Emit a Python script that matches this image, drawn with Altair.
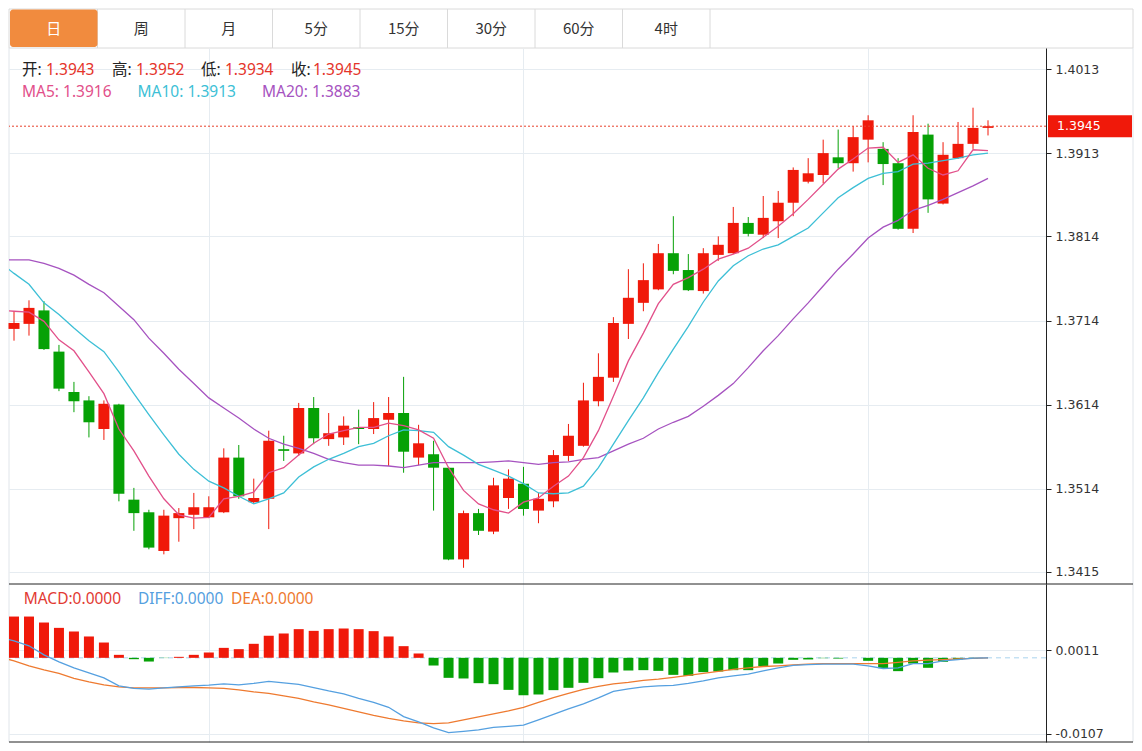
import altair as alt
import pandas as pd

# ---------------- data ----------------
tabs = ["日", "周", "月", "5分", "15分", "30分", "60分", "4时"]

opens = [1.3704, 1.3710, 1.3726, 1.3677, 1.3629, 1.3619, 1.3585, 1.3614, 1.3501, 1.3486,
         1.3440, 1.3479, 1.3483, 1.3480, 1.3486, 1.3551, 1.3498, 1.3502, 1.3561, 1.3556,
         1.3610, 1.3573, 1.3575, 1.3587, 1.3585, 1.3596, 1.3604, 1.3551, 1.3555, 1.3539,
         1.3430, 1.3485, 1.3463, 1.3503, 1.3520, 1.3488, 1.3499, 1.3553, 1.3565, 1.3618,
         1.3646, 1.3710, 1.3735, 1.3751, 1.3794, 1.3774, 1.3749, 1.3792, 1.3794, 1.3830,
         1.3816, 1.3832, 1.3854, 1.3879, 1.3887, 1.3908, 1.3901, 1.3929, 1.3918, 1.3901,
         1.3823, 1.3935, 1.3853, 1.3907, 1.3924, 1.3943]
highs = [1.3725, 1.3738, 1.3737, 1.3685, 1.3641, 1.3624, 1.3619, 1.3615, 1.3515, 1.3489,
         1.3489, 1.3491, 1.3509, 1.3505, 1.3562, 1.3566, 1.3526, 1.3583, 1.3577, 1.3616,
         1.3623, 1.3604, 1.3600, 1.3608, 1.3617, 1.3623, 1.3647, 1.3590, 1.3571, 1.3540,
         1.3488, 1.3490, 1.3527, 1.3537, 1.3540, 1.3509, 1.3560, 1.3591, 1.3640, 1.3675,
         1.3718, 1.3775, 1.3782, 1.3805, 1.3838, 1.3793, 1.3800, 1.3814, 1.3849, 1.3837,
         1.3862, 1.3868, 1.3896, 1.3907, 1.3929, 1.3941, 1.3945, 1.3958, 1.3926, 1.3907,
         1.3958, 1.3948, 1.3926, 1.3950, 1.3967, 1.3952]
lows = [1.3690, 1.3696, 1.3679, 1.3630, 1.3605, 1.3575, 1.3572, 1.3499, 1.3464, 1.3442,
        1.3436, 1.3451, 1.3466, 1.3479, 1.3485, 1.3502, 1.3497, 1.3466, 1.3547, 1.3553,
        1.3567, 1.3565, 1.3566, 1.3567, 1.3579, 1.3541, 1.3533, 1.3542, 1.3488, 1.3429,
        1.3420, 1.3459, 1.3460, 1.3490, 1.3482, 1.3473, 1.3492, 1.3547, 1.3564, 1.3612,
        1.3641, 1.3692, 1.3725, 1.3750, 1.3769, 1.3749, 1.3746, 1.3785, 1.3793, 1.3814,
        1.3812, 1.3812, 1.3838, 1.3877, 1.3877, 1.3895, 1.3891, 1.3902, 1.3875, 1.3822,
        1.3818, 1.3842, 1.3852, 1.3906, 1.3918, 1.3934]
closes = [1.3711, 1.3729, 1.3680, 1.3633, 1.3618, 1.3593, 1.3615, 1.3508, 1.3485, 1.3444,
          1.3482, 1.3485, 1.3492, 1.3492, 1.3551, 1.3505, 1.3503, 1.3571, 1.3559, 1.3610,
          1.3574, 1.3580, 1.3589, 1.3585, 1.3598, 1.3604, 1.3558, 1.3568, 1.3539, 1.3430,
          1.3485, 1.3464, 1.3518, 1.3526, 1.3490, 1.3502, 1.3554, 1.3577, 1.3619, 1.3647,
          1.3711, 1.3741, 1.3762, 1.3794, 1.3773, 1.3750, 1.3794, 1.3804, 1.3830, 1.3817,
          1.3836, 1.3854, 1.3893, 1.3889, 1.3913, 1.3901, 1.3932, 1.3952, 1.3900, 1.3823,
          1.3938, 1.3858, 1.3911, 1.3924, 1.3943, 1.3945]

# moving averages, first value is the bar just left of the visible window
ma5 = [1.3726, 1.3725, 1.3724, 1.3713, 1.3691, 1.3678, 1.3653, 1.3627, 1.3585, 1.3559, 1.3529,
       1.3502, 1.3483, 1.3479, 1.3480, 1.3502, 1.3505, 1.3510, 1.3533, 1.3539, 1.3554,
       1.3568, 1.3579, 1.3583, 1.3587, 1.3587, 1.3592, 1.3589, 1.3584, 1.3574, 1.3539,
       1.3512, 1.3496, 1.3489, 1.3485, 1.3498, 1.3503, 1.3517, 1.3529, 1.3551, 1.3583,
       1.3624, 1.3666, 1.3699, 1.3734, 1.3757, 1.3765, 1.3775, 1.3787, 1.3793, 1.3800,
       1.3813, 1.3826, 1.3841, 1.3858, 1.3876, 1.3894, 1.3906, 1.3919, 1.3920, 1.3902,
       1.3911, 1.3895, 1.3887, 1.3892, 1.3917, 1.3916]
ma10 = [1.3784, 1.3770, 1.3757, 1.3735, 1.3721, 1.3705, 1.3690, 1.3677, 1.3653, 1.3627, 1.3602,
        1.3578, 1.3555, 1.3537, 1.3523, 1.3515, 1.3505, 1.3496, 1.3502, 1.3509, 1.3528,
        1.3540, 1.3549, 1.3556, 1.3564, 1.3568, 1.3577, 1.3584, 1.3583, 1.3581, 1.3564,
        1.3554, 1.3543, 1.3536, 1.3529, 1.3520, 1.3509, 1.3508, 1.3509, 1.3517, 1.3539,
        1.3567, 1.3595, 1.3622, 1.3652, 1.3680, 1.3707, 1.3736, 1.3761, 1.3779, 1.3791,
        1.3799, 1.3804, 1.3814, 1.3824, 1.3842, 1.3860, 1.3872, 1.3883, 1.3889, 1.3891,
        1.3900, 1.3901, 1.3904, 1.3907, 1.3911, 1.3913]
ma20 = [1.3786, 1.3786, 1.3786, 1.3782, 1.3776, 1.3768, 1.3757, 1.3747, 1.3731, 1.3715, 1.3693,
        1.3675, 1.3656, 1.3639, 1.3622, 1.3610, 1.3598, 1.3585, 1.3574, 1.3567, 1.3562,
        1.3556, 1.3549, 1.3545, 1.3542, 1.3542, 1.3541, 1.3539, 1.3542, 1.3545, 1.3545,
        1.3545, 1.3545, 1.3546, 1.3547, 1.3545, 1.3543, 1.3545, 1.3546, 1.3549, 1.3551,
        1.3559, 1.3567, 1.3574, 1.3585, 1.3593, 1.3600, 1.3612, 1.3625, 1.3639, 1.3658,
        1.3678, 1.3696, 1.3716, 1.3735, 1.3755, 1.3775, 1.3793, 1.3812, 1.3825, 1.3833,
        1.3845, 1.3851, 1.3858, 1.3866, 1.3874, 1.3883]

macd_hist = [0.0058, 0.0058, 0.00496, 0.00421, 0.0037, 0.003, 0.00215, 0.00042, -0.00019, -0.00052,
             -0.00003, 0.00014, 0.00042, 0.00075, 0.0014, 0.00122, 0.00197, 0.00309, 0.00342, 0.00403,
             0.00379, 0.00403, 0.00412, 0.00403, 0.00375, 0.003, 0.00164, 0.00061, -0.00108, -0.00281,
             -0.0029, -0.00356, -0.0037, -0.0045, -0.00524, -0.00515, -0.00454, -0.00421, -0.00351, -0.00286,
             -0.00206, -0.00178, -0.00173, -0.00183, -0.00239, -0.00253, -0.00201, -0.00192, -0.00173, -0.00173,
             -0.00117, -0.0008, -0.00028, -0.00023, -0.00005, -0.0001, 0.0, -0.00042, -0.00145, -0.00187,
             -0.0008, -0.0014, -0.00056, -0.00023, -0.0001, 0.0]
diff = [0.0029, 0.00239, 0.00169, 0.00042, -0.00056, -0.00141, -0.00211, -0.00281, -0.00393, -0.00429, -0.0044,
        -0.00422, -0.00407, -0.00393, -0.00384, -0.00365, -0.00379, -0.00358, -0.0033, -0.00351, -0.00372,
        -0.00417, -0.00464, -0.00506, -0.00569, -0.00625, -0.00695, -0.00825, -0.00899, -0.00984, -0.0105,
        -0.01033, -0.01012, -0.00976, -0.00962, -0.00946, -0.00871, -0.00794, -0.00717, -0.00646, -0.00562,
        -0.00471, -0.00436, -0.00407, -0.00393, -0.00386, -0.00358, -0.00323, -0.00281, -0.00253, -0.00229,
        -0.00183, -0.00141, -0.00105, -0.00096, -0.00089, -0.00089, -0.00089, -0.00112, -0.0015, -0.00141,
        -0.0008, -0.0008, -0.00042, -0.00024, -0.00004, 0.0]
dea = [0.00014, -0.00042, -0.00112, -0.00169, -0.00218, -0.00288, -0.00337, -0.00379, -0.00407, -0.00422, -0.00422,
       -0.00422, -0.00417, -0.00417, -0.00422, -0.00429, -0.0045, -0.00478, -0.00499, -0.00534, -0.00569,
       -0.00618, -0.0066, -0.0071, -0.00759, -0.00808, -0.0085, -0.00885, -0.00913, -0.00923, -0.00913,
       -0.00871, -0.00829, -0.00787, -0.00745, -0.00695, -0.00625, -0.00558, -0.00499, -0.00443, -0.004,
       -0.00365, -0.00344, -0.00316, -0.00299, -0.00274, -0.00246, -0.00218, -0.0019, -0.00162, -0.00141,
       -0.00122, -0.00112, -0.00098, -0.00089, -0.0008, -0.0008, -0.0008, -0.0008, -0.0008, -0.00063,
       -0.00042, -0.00032, -0.00024, -0.00014, -0.00007, 0.0]

price_ticks = [1.3415, 1.3514, 1.3614, 1.3714, 1.3814, 1.3913, 1.4013]
macd_ticks = [0.0011, -0.0107]
month_marks = [13, 34, 57]   # bars where the vertical grid lines fall

# ---------------- styling ----------------
RED = "#F0190A"
GREEN = "#06A106"
ORANGE = "#F18B3E"
GRIDC = "#E6ECF1"
EDGE = "#E0E5EA"
DARK = "#222222"
C_MA5, C_MA10, C_MA20 = "#E2508A", "#3DBFD6", "#A653C0"
C_DIFF, C_DEA, C_MACD = "#55A0E0", "#EE7A30", "#E23A33"
TXT_FONT = "Noto Sans, Noto Sans CJK SC"
CJK = "Noto Sans CJK SC"
AX_FONT = "DejaVu Sans"

TOTAL_W = 1124
TAB_H = 39
PW = 1037
MAIN_H = 536
MACD_H = 158
XDOM = [-0.334, 68.87]
YDOM = [1.340073, 1.403797]
MDOM = [-0.011824, 0.010372]

n = len(opens)
idx = list(range(n))
candles = pd.DataFrame({"i": idx, "open": opens, "high": highs, "low": lows, "close": closes})
candles["dir"] = ["up" if c >= o else "down" for o, c in zip(opens, closes)]
ma_idx = list(range(-1, n))
macd_df = pd.DataFrame({"i": idx, "h": macd_hist})
macd_df["dir"] = ["up" if h >= 0 else "down" for h in macd_hist]

one = pd.DataFrame({"a": [0]})


def label(text, x, y, color, font=TXT_FONT, size=15.5, align="left"):
    return alt.Chart(pd.DataFrame({"t": [text]})).mark_text(
        align=align, baseline="middle", font=font, fontSize=size, color=color
    ).encode(x=alt.value(x), y=alt.value(y), text="t:N")


def vrule(x, h, color):
    return alt.Chart(one).mark_rule(color=color, strokeWidth=1).encode(
        x=alt.value(x), y=alt.value(0), y2=alt.value(h))


def hrule(y, color):
    return alt.Chart(one).mark_rule(color=color, strokeWidth=1).encode(
        x=alt.value(0), x2=alt.value(TOTAL_W), y=alt.value(y))


# ---------------- tab bar ----------------
TABW = 87.5
tab_df = pd.DataFrame({"i": list(range(len(tabs))), "label": tabs})
tab_df["i2"] = tab_df["i"] + 1
tab_df["ic"] = tab_df["i"] + 0.5
tab_df["sel"] = [k == 0 for k in range(len(tabs))]
tx = alt.Scale(domain=[-1 / TABW, -1 / TABW + TOTAL_W / TABW], nice=False, zero=False, padding=0)

tab_frame = alt.Chart(one).mark_rect(fill="white", stroke="#DADADA", strokeWidth=1).encode(
    x=alt.value(0), x2=alt.value(TOTAL_W), y=alt.value(0), y2=alt.value(TAB_H))
tab_seps = alt.Chart(tab_df).mark_rule(color="#DADADA").encode(
    x=alt.X("i2:Q", scale=tx, axis=None), y=alt.value(0), y2=alt.value(TAB_H))
tab_sel = alt.Chart(tab_df[tab_df["sel"]]).mark_rect(color=ORANGE, cornerRadius=3).encode(
    x=alt.X("i:Q", scale=tx, axis=None), x2="i2:Q", y=alt.value(0.5), y2=alt.value(TAB_H - 1))
tab_txt = alt.Chart(tab_df).mark_text(font=CJK, fontSize=15, baseline="middle").encode(
    x=alt.X("ic:Q", scale=tx, axis=None), y=alt.value(TAB_H / 2), text="label:N",
    color=alt.condition("datum.sel", alt.value("white"), alt.value("#333333")))
tab_chart = alt.layer(tab_frame, tab_seps, tab_sel, tab_txt).properties(width=TOTAL_W, height=TAB_H)

# ---------------- main (candles) ----------------
xs = alt.Scale(domain=XDOM, nice=False, zero=False, padding=0)
xax = alt.Axis(values=month_marks, grid=True, gridColor=GRIDC, labels=False, ticks=False,
               domain=False, title=None)
ys = alt.Scale(domain=YDOM, nice=False, zero=False)
yax = alt.Axis(orient="right", values=price_ticks, format=".4f", grid=True, gridColor=GRIDC,
               domainColor=DARK, tickColor=DARK, tickSize=5, labelPadding=4, labelFont=AX_FONT,
               labelFontSize=12.5, labelColor="#333333", title=None)
cscale = alt.Scale(domain=["up", "down"], range=[RED, GREEN])

X = alt.X("i:Q", scale=xs, axis=xax)
base = alt.Chart(candles)
wicks = base.mark_rule(strokeWidth=1).encode(
    x=X, y=alt.Y("low:Q", scale=ys, axis=yax), y2="high:Q",
    color=alt.Color("dir:N", scale=cscale, legend=None))
bodies = base.mark_bar(size=11).encode(
    x=X, y=alt.Y("open:Q", scale=ys, axis=yax), y2="close:Q",
    color=alt.Color("dir:N", scale=cscale, legend=None))


def ma_line(vals, color):
    df = pd.DataFrame({"i": ma_idx, "v": vals})
    return alt.Chart(df).mark_line(color=color, strokeWidth=1.3, clip=True).encode(
        x=X, y=alt.Y("v:Q", scale=ys, axis=yax))


last = closes[-1]
half = 11 / (MAIN_H / (YDOM[1] - YDOM[0]))
price_line = alt.Chart(one).mark_rule(color="#E8402A", strokeDash=[2, 2], strokeWidth=1).encode(
    y=alt.datum(last, scale=ys, axis=yax))
price_box = alt.Chart(one).mark_rect(color=RED).encode(
    x=alt.value(PW + 2), x2=alt.value(TOTAL_W - 1),
    y=alt.datum(last + half, scale=ys, axis=yax), y2=alt.datum(last - half))
price_txt = alt.Chart(pd.DataFrame({"t": [f"{last:.4f}"]})).mark_text(
    align="left", baseline="middle", font=AX_FONT, fontSize=12.5, color="white").encode(
    x=alt.value(PW + 11), y=alt.datum(last, scale=ys, axis=yax), text="t:N")

VALRED = "#E5342A"
main_layers = [
    vrule(0, MAIN_H, EDGE),
    wicks, bodies,
    ma_line(ma20, C_MA20), ma_line(ma10, C_MA10), ma_line(ma5, C_MA5),
    price_line, price_box, price_txt,
    label("开:", 13, 22, "#222222"), label(f"{opens[-1]:.4f}", 37, 22, VALRED),
    label("高:", 103, 22, "#222222"), label(f"{highs[-1]:.4f}", 127, 22, VALRED),
    label("低:", 192, 22, "#222222"), label(f"{lows[-1]:.4f}", 216, 22, VALRED),
    label("收:", 282, 22, "#222222"), label(f"{closes[-1]:.4f}", 304, 22, VALRED),
    label(f"MA5: {ma5[-1]:.4f}", 13, 44, C_MA5),
    label(f"MA10: {ma10[-1]:.4f}", 128.5, 44, C_MA10),
    label(f"MA20: {ma20[-1]:.4f}", 253, 44, C_MA20),
    vrule(TOTAL_W, MAIN_H, EDGE),
]
main_chart = alt.layer(*main_layers).properties(width=PW, height=MAIN_H)

# ---------------- MACD ----------------
ms = alt.Scale(domain=MDOM, nice=False, zero=False)
mlabel = "datum.value < 0 ? '-' + format(-datum.value, '.4f') : format(datum.value, '.4f')"
max_ = alt.Axis(orient="right", values=macd_ticks, labelExpr=mlabel, grid=True, gridColor=GRIDC,
                domainColor=DARK, tickColor=DARK, tickSize=5, labelPadding=4, labelFont=AX_FONT,
                labelFontSize=12.5, labelColor="#333333", title=None)

zero_line = alt.Chart(one).mark_rule(color="#A9D3EE", strokeDash=[5, 4], strokeWidth=1).encode(
    y=alt.datum(0, scale=ms, axis=max_))
hist = alt.Chart(macd_df).mark_bar(size=10).encode(
    x=X, y=alt.Y("h:Q", scale=ms, axis=max_), y2=alt.datum(0),
    color=alt.Color("dir:N", scale=cscale, legend=None))


def macd_line(vals, color):
    df = pd.DataFrame({"i": ma_idx, "v": vals})
    return alt.Chart(df).mark_line(color=color, strokeWidth=1.3, clip=True).encode(
        x=X, y=alt.Y("v:Q", scale=ms, axis=max_))


macd_layers = [
    vrule(0, MACD_H, EDGE),
    zero_line, hist,
    macd_line(dea, C_DEA), macd_line(diff, C_DIFF),
    label(f"MACD:{macd_hist[-1]:.4f}", 14.7, 14.5, C_MACD),
    label(f"DIFF:{diff[-1]:.4f}", 129, 14.5, C_DIFF),
    label(f"DEA:{dea[-1]:.4f}", 222, 14.5, C_DEA),
    vrule(TOTAL_W, MACD_H, EDGE),
    hrule(0, DARK), hrule(MACD_H, DARK),
]
macd_chart = alt.layer(*macd_layers).properties(width=PW, height=MACD_H)

chart = alt.vconcat(tab_chart, main_chart, macd_chart, spacing=0, bounds="flush").properties(
    padding=0, background="white"
).configure_view(stroke=None)

chart.save("out.html", embed_options={"renderer": "svg", "actions": False})
